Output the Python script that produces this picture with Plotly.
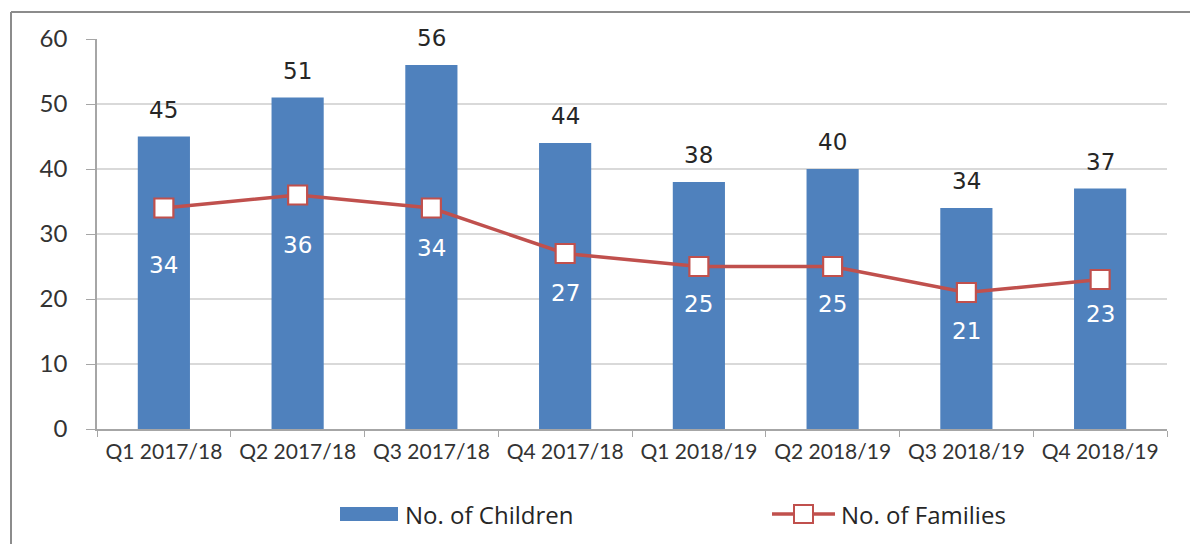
import plotly.graph_objects as go

quarters = ["Q1 2017/18", "Q2 2017/18", "Q3 2017/18", "Q4 2017/18",
            "Q1 2018/19", "Q2 2018/19", "Q3 2018/19", "Q4 2018/19"]
children = [45, 51, 56, 44, 38, 40, 34, 37]
families = [34, 36, 34, 27, 25, 25, 21, 23]

# label placement (style): pixel offset of each family label below its marker
family_label_shift = [-57, -50, -40, -39, -37, -37, -38, -34]

BLUE = "#4F81BD"
RED = "#C0504D"
TICK_FONT = "Lato, 'Open Sans', sans-serif"
LEGEND_FONT = "'Open Sans', Lato, sans-serif"
LABEL_FONT = "'DejaVu Sans', Verdana, sans-serif"

OFF = 8  # page body margin
W, H = 1198, 544
# plot area in screen pixels: x 97..1167, y 39..429
ml = 97 - OFF
mt = 39 - OFF
mr = W - (1167 - OFF)
mb = H - (429 - OFF)
pw = W - ml - mr
ph = H - mt - mb


def px_x(sx):
    return (sx - OFF - ml) / pw


def px_y(sy):
    return (H - mb - (sy - OFF)) / ph


fig = go.Figure()
fig.add_trace(go.Bar(
    x=quarters, y=children, name="No. of Children",
    marker=dict(color=BLUE, line=dict(width=0)),
    showlegend=False,
))
fig.add_trace(go.Scatter(
    x=quarters, y=families, name="No. of Families", mode="lines+markers",
    line=dict(color=RED, width=3.5),
    marker=dict(symbol="square", size=19, color="white",
                line=dict(color=RED, width=2.2)),
    showlegend=False,
))

annotations = []
for q, v in zip(quarters, children):
    annotations.append(dict(x=q, y=v, text=str(v), showarrow=False,
                            yanchor="middle", yshift=27,
                            font=dict(family=LABEL_FONT, size=23, color="#262626")))
for q, v, s in zip(quarters, families, family_label_shift):
    annotations.append(dict(x=q, y=v, text=str(v), showarrow=False,
                            yanchor="middle", yshift=s,
                            font=dict(family=LABEL_FONT, size=23, color="white")))

# custom legend
annotations.append(dict(xref="paper", yref="paper", x=px_x(403), y=px_y(514),
                        xanchor="left", yanchor="middle", showarrow=False,
                        text="No. of Children",
                        font=dict(family=LEGEND_FONT, size=24, color="#262626")))
annotations.append(dict(xref="paper", yref="paper", x=px_x(839), y=px_y(514),
                        xanchor="left", yanchor="middle", showarrow=False,
                        text="No. of Families",
                        font=dict(family=LEGEND_FONT, size=24, color="#262626")))

shapes = [
    # chart frame (left and top edges visible)
    dict(type="line", xref="paper", yref="paper",
         x0=px_x(11), x1=px_x(11), y0=px_y(12), y1=px_y(580),
         line=dict(color="#8C8C8C", width=2)),
    dict(type="line", xref="paper", yref="paper",
         x0=px_x(11), x1=px_x(1230), y0=px_y(12), y1=px_y(12),
         line=dict(color="#8C8C8C", width=2)),
    # legend symbols
    dict(type="rect", xref="paper", yref="paper",
         x0=px_x(340), x1=px_x(398), y0=px_y(507), y1=px_y(521),
         fillcolor=BLUE, line=dict(width=0)),
    dict(type="line", xref="paper", yref="paper",
         x0=px_x(772), x1=px_x(835), y0=px_y(514), y1=px_y(514),
         line=dict(color=RED, width=3.5)),
    dict(type="rect", xref="paper", yref="paper",
         x0=px_x(794), x1=px_x(813), y0=px_y(505), y1=px_y(523),
         fillcolor="white", line=dict(color=RED, width=2)),
]

fig.update_layout(
    width=W, height=H,
    margin=dict(l=ml, r=mr, t=mt, b=mb, autoexpand=False),
    plot_bgcolor="white", paper_bgcolor="white",
    bargap=0.61,
    showlegend=False,
    xaxis=dict(type="category", showline=True, linecolor="#A6A6A6", linewidth=1.5,
               ticks="outside", tickson="boundaries", ticklen=6, tickcolor="#A6A6A6",
               tickfont=dict(family=TICK_FONT, size=21, color="#333333"),
               showgrid=False, ticklabelstandoff=3),
    yaxis=dict(range=[0, 60], dtick=10, showline=True, linecolor="#A6A6A6", linewidth=1.5,
               ticks="outside", ticklen=9, tickcolor="#A6A6A6",
               gridcolor="#D9D9D9", gridwidth=1.5, zeroline=False,
               tickfont=dict(family=TICK_FONT, size=24, color="#333333"),
               ticklabelstandoff=14),
    annotations=annotations,
    shapes=shapes,
)

fig.write_html("out.html")
